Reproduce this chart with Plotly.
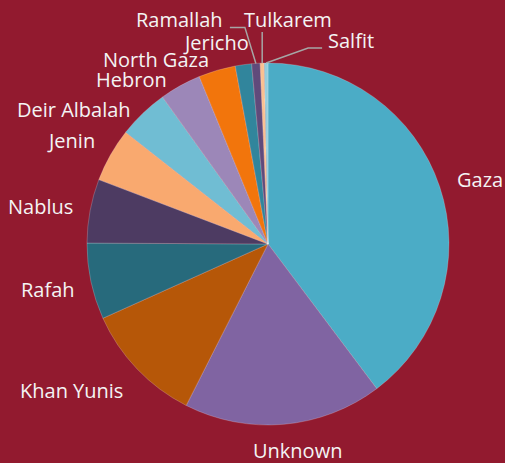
import math
import plotly.graph_objects as go

labels = ["Gaza", "Unknown", "Khan Yunis", "Rafah", "Nablus", "Jenin", "Deir Albalah",
          "Hebron", "North Gaza", "Jericho", "Ramallah", "Tulkarem", "Salfit"]
values = [39.7, 17.7, 10.8, 6.8, 5.7, 4.8, 4.5, 3.7, 3.3, 1.45, 0.75, 0.36, 0.33]
colors = ["#4BACC6", "#8064A2", "#B65708", "#276A7C", "#4D3B62", "#F9A96F", "#70BDD3",
          "#9C87B8", "#F2750C", "#31859C", "#604A7B", "#FAC090", "#93CDDD"]

# ---- layout / styling (pixels) ----
W, H = 505, 463
CX, CY, R = 268, 244, 181
BG = "#921A2F"
FONT = dict(family="Open Sans", size=20, color="#F4F4F4")

# label placement: anchor, xshift, yshift relative to slice edge point
label_style = {
    "Gaza": ("left", 16, 7),
    "Unknown": ("center", 14, -26),
    "Khan Yunis": ("right", -13, -22),
    "Rafah": ("right", -15, -8),
    "Nablus": ("right", -16, 4),
    "Jenin": ("right", -14, 14),
    "Deir Albalah": ("right", -11, 4),
    "Hebron": ("right", -12, 6),
    "North Gaza": ("right", -7, 11),
    "Jericho": ("center", -27, 22),
    "Ramallah": ("center", -76, 44),
    "Tulkarem": ("center", 26, 44),
    "Salfit": ("center", 85, 23),
}
# leader lines: list of (dx, dy) pixel offsets from slice edge point
leaders = {
    "Ramallah": [(0, 0), (-11, -36), (-26, -36)],
    "Tulkarem": [(0, 0), (0, -31)],
    "Salfit": [(0, 0), (42, -15), (56, -15)],
}


def px2paper(x, y):
    return x / W, 1 - y / H


fig = go.Figure(go.Pie(
    labels=labels,
    values=values,
    sort=False,
    direction="clockwise",
    rotation=0,
    marker=dict(colors=colors, line=dict(color="rgba(255,255,255,0.35)", width=0.6)),
    textinfo="none",
    showlegend=False,
    hoverinfo="label+value",
    domain=dict(x=[(CX - R) / W, (CX + R) / W], y=[1 - (CY + R) / H, 1 - (CY - R) / H]),
    automargin=False,
))

total = sum(values)
cum = 0.0
annotations = []
shapes = []
for lab, v in zip(labels, values):
    mid = 360.0 * (cum + v / 2) / total
    cum += v
    th = math.radians(mid)
    ex = CX + R * math.sin(th)
    ey = CY - R * math.cos(th)
    xa, xs, ys = label_style[lab]
    px, py = px2paper(ex, ey)
    annotations.append(dict(
        x=px, y=py, xref="paper", yref="paper", text=lab, showarrow=False,
        xanchor=xa, yanchor="middle", xshift=xs, yshift=ys, font=FONT, borderpad=0,
    ))
    if lab in leaders:
        pts = [px2paper(ex + dx, ey + dy) for dx, dy in leaders[lab]]
        path = "M " + " L ".join(f"{a:.5f},{b:.5f}" for a, b in pts)
        shapes.append(dict(type="path", xref="paper", yref="paper", path=path,
                           line=dict(color="#A6A6A6", width=1.5)))

fig.update_layout(
    width=W, height=H,
    margin=dict(l=0, r=0, t=0, b=0),
    paper_bgcolor=BG,
    plot_bgcolor=BG,
    annotations=annotations,
    shapes=shapes,
)

fig.write_html(
    "out.html",
    config={"displayModeBar": False},
    post_script="document.body.style.margin='0px';document.body.style.background='%s';" % BG,
)
